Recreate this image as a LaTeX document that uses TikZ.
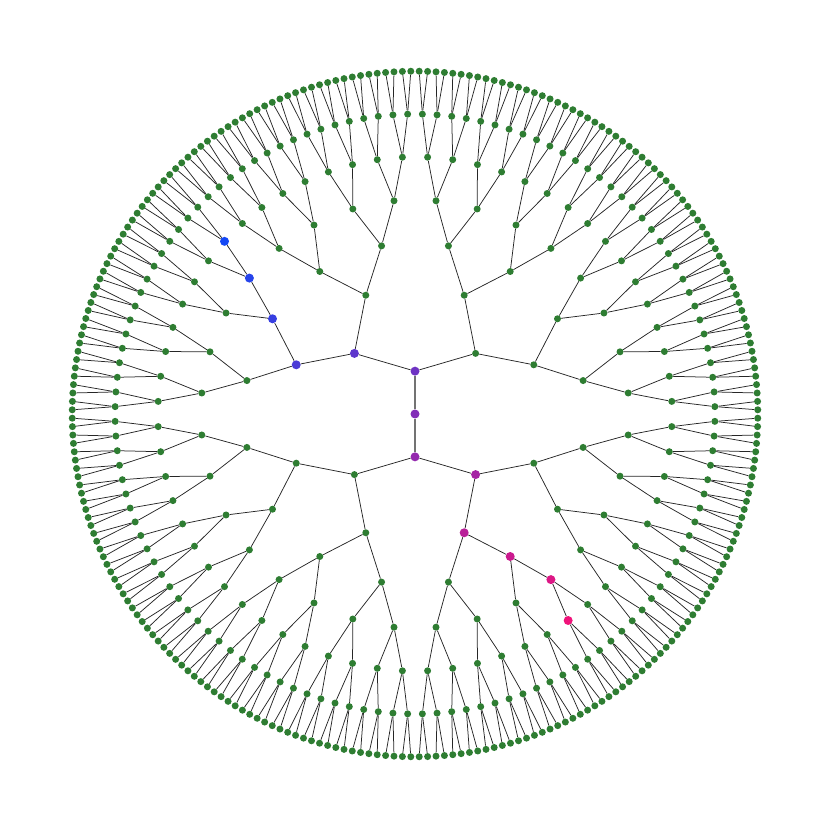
\documentclass[tikz,border=0pt]{standalone}
\usepackage{tikz}
\definecolor{leafgreen}{HTML}{2E7D32}
\definecolor{pA}{HTML}{1448F5}
\definecolor{pB}{HTML}{F0127A}
\tikzset{
  dot/.style={circle, inner sep=0pt, minimum size=7pt, fill=leafgreen, draw=none},
  hl/.style={circle, inner sep=0pt, minimum size=9pt, draw=none},
  edge/.style={line width=0.75pt, draw=black!85},
  coreedge/.style={line width=1.3pt, draw=black!55},
}
\begin{document}
\begin{tikzpicture}[x=1pt,y=1pt]
\useasboundingbox (0,0) rectangle (830,830);
\begin{scope}[shift={(415,416)}]
  \node[hl, fill=pB!50!pA] (root) at (0,0) {};
  \foreach \k in {1,...,8}{
    \pgfmathtruncatemacro\n{2^\k}
    \pgfmathtruncatemacro\m{\n-1}
    \pgfmathsetmacro\stepang{360/\n}
    \pgfmathtruncatemacro\ua{\k<7 ? floor(24/(2^(6-\k))) : -5}
    \pgfmathtruncatemacro\ub{\k<7 ? floor(54/(2^(6-\k))) : -5}
    \foreach \i in {0,...,\m}{
      \pgfmathsetmacro\ang{(\i+0.5)*\stepang}
      \pgfmathsetmacro\rad{\k*42.85}
      \pgfmathtruncatemacro\t{\i==\ua ? 6-\k : (\i==\ub ? 6+\k : -1)}
      \ifnum\t<0
        \node[dot] (n\k-\i) at (\ang:\rad) {};
      \else
        \pgfmathtruncatemacro\pc{\t*100/12}
        \node[hl, fill=pB!\pc!pA] (n\k-\i) at (\ang:\rad) {};
      \fi
    }
  }
  \draw[coreedge] (root) -- (n1-0);
  \draw[coreedge] (root) -- (n1-1);
  \foreach \k in {2,...,8}{
    \pgfmathtruncatemacro\n{2^\k}
    \pgfmathtruncatemacro\m{\n-1}
    \pgfmathtruncatemacro\km{\k-1}
    \foreach \i in {0,...,\m}{
      \pgfmathtruncatemacro\p{floor(\i/2)}
      \draw[edge] (n\k-\i) -- (n\km-\p);
    }
  }
\end{scope}
\end{tikzpicture}
\end{document}
